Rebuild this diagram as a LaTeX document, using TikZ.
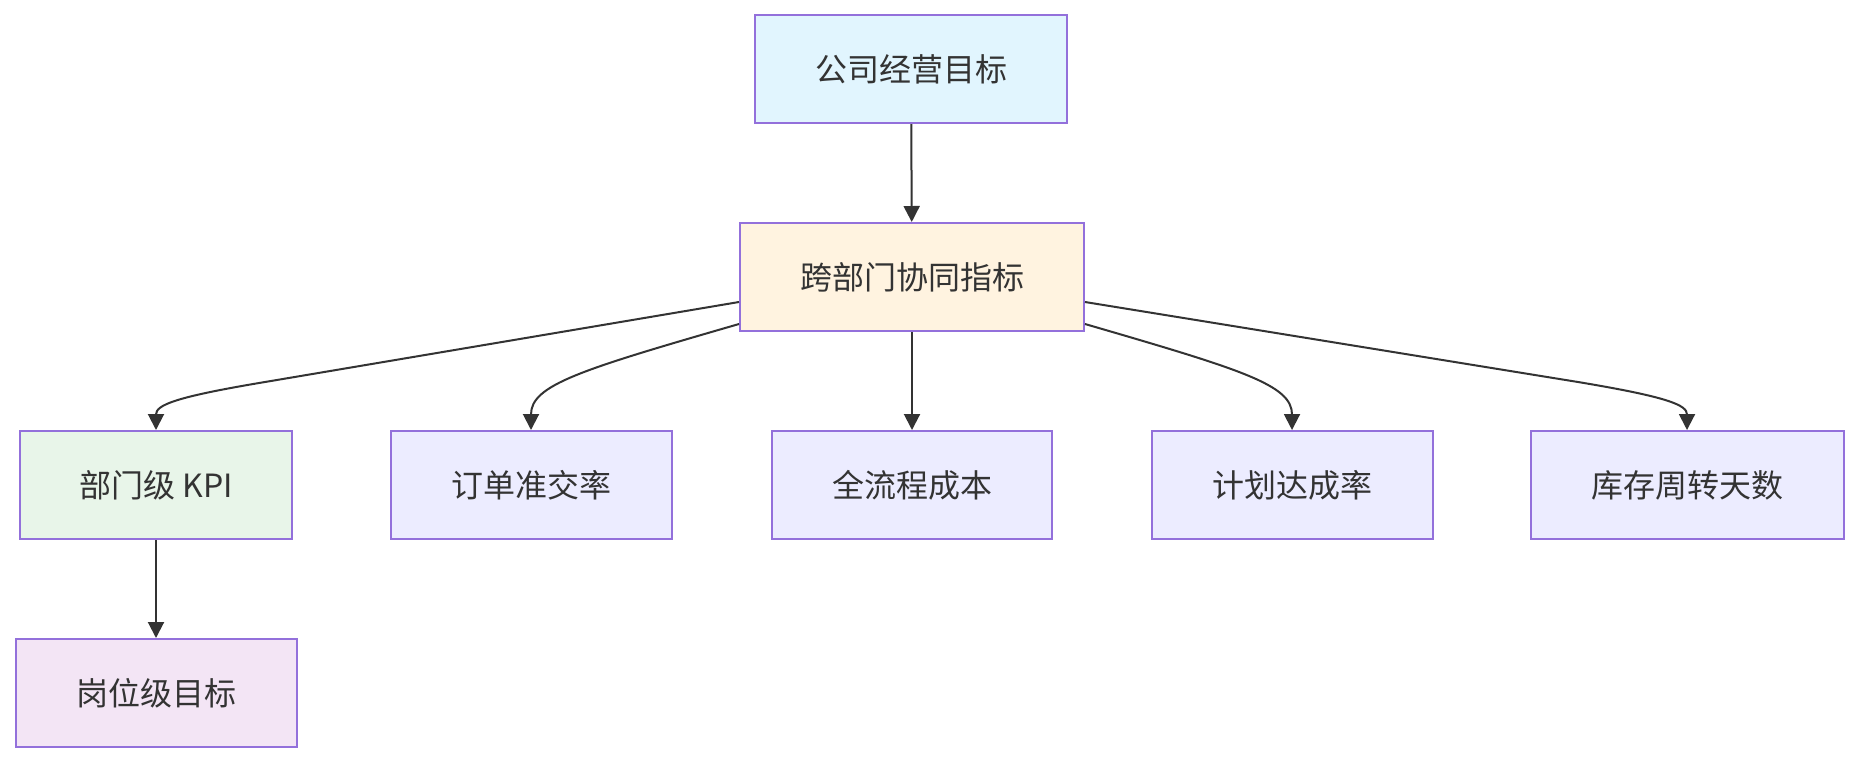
\documentclass[tikz,border=0pt]{standalone}
\usepackage{fontspec}
\setmainfont{Noto Sans CJK SC}
\usetikzlibrary{arrows.meta}
\definecolor{bordc}{HTML}{9370DB}
\definecolor{txtc}{HTML}{333333}
\definecolor{fillA}{HTML}{E1F5FE}
\definecolor{fillB}{HTML}{FFF3E0}
\definecolor{fillC}{HTML}{E8F5E9}
\definecolor{fillD}{HTML}{ECECFF}
\definecolor{fillE}{HTML}{F3E5F5}
\tikzset{
  box/.style={draw=bordc, line width=2pt, text=txtc, inner sep=0pt,
    minimum height=108pt, font=\fontsize{32pt}{38pt}\selectfont, anchor=center},
  conn/.style={draw=txtc, line width=2pt, -{Triangle[length=16pt,width=16pt]}},
}
\begin{document}
\begin{tikzpicture}[x=1pt,y=-1pt]
\useasboundingbox (0,0) rectangle (1859,764);
\node[box, fill=fillA, minimum width=312pt] (top) at (911,69) {公司经营目标};
\node[box, fill=fillB, minimum width=344pt] (mid) at (912,277) {跨部门协同指标};
\node[box, fill=fillC, minimum width=272pt] (kpi) at (156,485) {部门级 KPI};
\node[box, fill=fillD, minimum width=281pt] (ord) at (531,485) {订单准交率};
\node[box, fill=fillD, minimum width=280pt] (cost) at (912,485) {全流程成本};
\node[box, fill=fillD, minimum width=281pt] (plan) at (1292,485) {计划达成率};
\node[box, fill=fillD, minimum width=313pt] (inv) at (1687,485) {库存周转天数};
\node[box, fill=fillE, minimum width=281pt] (post) at (156,693) {岗位级目标};

\coordinate (mL1) at ([yshift=-25pt]mid.west);
\coordinate (mL2) at ([yshift=-47pt]mid.west);
\coordinate (mR1) at ([yshift=-25pt]mid.east);
\coordinate (mR2) at ([yshift=-47pt]mid.east);

\draw[conn] (top) -- (mid);
\draw[conn] (mid) -- (cost);
\draw[conn] (kpi) -- (post);
\draw[conn] (mL1) -- (265,382) .. controls (175,397) and (156,405) .. (kpi.north);
\draw[conn] (mL2) .. controls (580,370) and (531,385) .. (ord.north);
\draw[conn] (mR2) .. controls (1243,370) and (1292,385) .. (plan.north);
\draw[conn] (mR1) -- (1578,382) .. controls (1668,397) and (1687,405) .. (inv.north);
\end{tikzpicture}
\end{document}
